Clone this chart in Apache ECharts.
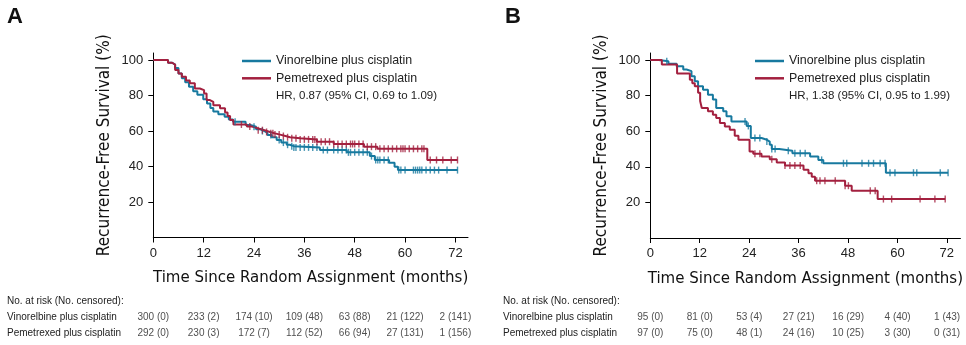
<!DOCTYPE html>
<html><head><meta charset="utf-8">
<script src="https://cdn.jsdelivr.net/npm/echarts@6/dist/echarts.min.js"></script>
<style>html,body{margin:0;padding:0;background:#fff}#c{width:966px;height:345px}</style>
</head><body><div id="c"></div>
<script>
const xTicks = [0, 12, 24, 36, 48, 60, 72];
const yTicks = [20, 40, 60, 80, 100];
const seriesNames = ['Vinorelbine plus cisplatin', 'Pemetrexed plus cisplatin'];
const hrTexts = ['HR, 0.87 (95% CI, 0.69 to 1.09)', 'HR, 1.38 (95% CI, 0.95 to 1.99)'];
const panelLabels = ['A', 'B'];
const riskTitle = 'No. at risk (No. censored):';
const yTitle = 'Recurrence-Free Survival (%)';
const xTitle = 'Time Since Random Assignment (months)';

// Kaplan-Meier step points [months, survival %]
const kmA_vin = [[0,100],[3.5,98.5],[4.5,97.5],[5.2,95.5],[6,92.5],[6.8,89.7],[7.6,87.5],[8.5,85],[9.5,82.5],[10.5,80.5],[11.9,78],[12.8,75.5],[13.6,73],[14.3,71],[15.5,69.5],[17,68],[18,66.5],[19,65.2],[22,63.4],[23.1,62.4],[24.5,61],[25.5,60],[26.5,59],[27.2,57.8],[28.2,56.5],[29.4,55],[30.5,53.5],[31.8,52.3],[32.5,51.5],[33.5,50.8],[39.7,49.3],[46.1,48],[51.6,45.9],[52.8,43.7],[56.2,42.1],[57.5,39.9],[58.3,38],[72.5,38]];
const kmA_pem = [[0,100],[3.5,98.5],[4.5,97.5],[5.2,94.4],[6,92.5],[6.8,90.6],[7.8,88.5],[8.7,86.9],[9.9,84],[11.1,83.1],[12.1,81.2],[12.7,77.5],[13.5,76.5],[14.3,74.6],[15.9,72.8],[17.1,70.5],[17.7,68.5],[18.3,66.2],[19.1,63.7],[22.3,62.5],[23.5,61.5],[25,60.5],[26.5,59.5],[27.8,58.7],[29,58],[30.2,57.2],[31.5,56.5],[32.6,55.9],[35,55.3],[39,54],[43,52.7],[50.2,51.2],[53.4,50],[65.3,43.7],[72.5,43.7]];
const kmB_vin = [[0,100],[2,99.4],[4.4,98],[6.4,96.6],[8,94.7],[8.8,93.8],[10,91],[10.8,88.1],[11.6,85.3],[12.8,83.4],[14,80.6],[15.2,77.8],[16,73.1],[17.7,71.2],[18.5,68.4],[19.7,65.5],[23.4,63],[24.4,56.2],[27,55.2],[28.3,54.2],[29,52.4],[29.5,50],[31.3,49],[34.5,47.7],[38.8,45.8],[40.8,43.9],[42,42],[57.2,36.7],[72.3,36.7]];
const kmB_pem = [[0,100],[2.8,97.6],[6.5,92.5],[9.6,89],[10.2,87],[10.8,85.3],[11.6,81.6],[12.1,77],[12.5,73.1],[14,71.2],[15.2,69.3],[16,67.5],[16.9,64.6],[18.1,62.7],[19.3,60.8],[20.5,57.5],[21.4,55.2],[24.1,48.6],[25,47.3],[27,45.8],[29,44.3],[30.7,42.4],[32.7,40.7],[37.2,38.4],[38.4,36.4],[39.2,34.5],[40,32.2],[47.3,29.4],[48.9,26.6],[55.2,21.9],[71.6,21.9]];

// censoring times (months)
const censA_vin = [19.5,24,26,28,30,31,32,33,33.5,34,35,36,37,38,39,40.5,41.5,43,44,45,46,46.5,47,48,49,50,51,52,53,53.5,54,55,56,58.5,59,60,62,62.5,63,63.5,64,65,66,67,68,70,72.5];
const censA_pem = [21,23,25,26,27,28,28.5,29,30,31,32,33,34,35,36,37,38,38.5,39,40,41,42,43,44,45,46,47,47.5,48,49,50,51,52,53,54,55,56,57,58,59,59.5,60,61,62,63,64,64.5,66,67.5,69,71,72.5];
const censB_vin = [4,23,23.8,25.4,26.6,28.3,29.5,30.3,33.5,35.1,36.4,37.6,41.6,46.9,47.7,51.4,53,54.2,55.8,57,58.2,59.4,63.9,64.7,70.4,72.3];
const censB_pem = [25.4,26.6,29.5,32.7,33.9,35.1,36.4,40.4,41.2,42.4,44.9,47.3,48.1,53.4,54.6,56.6,58.6,65.5,69.1,71.6];

// numbers at risk / censored
const riskA_vin_n = [300,233,174,109,63,21,2];
const riskA_vin_c = [0,2,10,48,88,122,141];
const riskA_pem_n = [292,230,172,112,66,27,1];
const riskA_pem_c = [0,3,7,52,94,131,156];
const riskB_vin_n = [95,81,53,27,16,4,1];
const riskB_vin_c = [0,0,4,21,29,40,43];
const riskB_pem_n = [97,75,48,24,10,3,0];
const riskB_pem_c = [0,0,1,16,25,30,31];

const BLUE = '#17799f';
const RED = '#a3203f';
const NARROW = "'Liberation Sans Narrow','DejaVu Sans Condensed','Arial Narrow',sans-serif";
const SANS = "'Liberation Sans',Arial,sans-serif";

function survAt(km, t) {
  let v = km[0][1];
  for (const p of km) { if (p[0] <= t) v = p[1]; else break; }
  return v;
}

const panels = [
  {left: 153.3, width: 314.7, top: 53, height: 184.5, xmax: 75, vin: kmA_vin, pem: kmA_pem, cv: censA_vin, cp: censA_pem,
   rv: [riskA_vin_n, riskA_vin_c], rp: [riskA_pem_n, riskA_pem_c], legLeft: 237, labX: 7, rowX: 7},
  {left: 650.3, width: 310.4, top: 53, height: 185, xmax: 75.3, vin: kmB_vin, pem: kmB_pem, cv: censB_vin, cp: censB_pem,
   rv: [riskB_vin_n, riskB_vin_c], rp: [riskB_pem_n, riskB_pem_c], legLeft: 750, labX: 505, rowX: 503}
];

const grid = [], xAxis = [], yAxis = [], series = [], legend = [], graphic = [];
panels.forEach((p, i) => {
  grid.push({left: p.left, top: p.top, width: p.width, height: p.height});
  grid.push({left: p.left, top: 309.5, width: p.width, height: 32});
  const gi = i * 2;
  xAxis.push({
    gridIndex: gi, type: 'value', min: 0, max: p.xmax,
    axisLine: {show: true, lineStyle: {color: '#000', width: 1}},
    axisTick: {show: true, customValues: xTicks, length: 5, lineStyle: {color: '#000'}},
    axisLabel: {customValues: xTicks, fontSize: 13, color: '#222', margin: 9, fontFamily: SANS},
    splitLine: {show: false},
    name: xTitle, nameLocation: 'middle', nameGap: 32,
    nameTextStyle: {fontSize: 16.7, color: '#111', fontFamily: NARROW}
  });
  yAxis.push({
    gridIndex: gi, type: 'value', min: 0, max: 104,
    axisLine: {show: true, lineStyle: {color: '#000', width: 1}},
    axisTick: {show: true, customValues: yTicks, length: 5, lineStyle: {color: '#000'}},
    axisLabel: {customValues: yTicks, fontSize: 13, color: '#222', margin: 10, fontFamily: SANS},
    splitLine: {show: false},
    name: yTitle, nameLocation: 'middle', nameGap: 40,
    nameTextStyle: {fontSize: 17, color: '#111', fontFamily: NARROW}
  });
  xAxis.push({gridIndex: gi + 1, type: 'value', min: 0, max: p.xmax, show: false});
  yAxis.push({gridIndex: gi + 1, type: 'category', inverse: true, data: seriesNames,
    axisLine: {show: false}, axisTick: {show: false}, splitLine: {show: false},
    axisLabel: {align: 'left', margin: p.left - p.rowX, fontSize: 10, color: '#222', fontFamily: SANS}});

  const xi = i * 2;
  [[p.vin, BLUE, p.cv, seriesNames[0]], [p.pem, RED, p.cp, seriesNames[1]]].forEach(([km, col, cens, nm]) => {
    series.push({type: 'line', name: nm, xAxisIndex: xi, yAxisIndex: xi, data: km, step: 'end',
      showSymbol: false, symbol: 'none', lineStyle: {color: col, width: 2}, itemStyle: {color: col}, z: 3, silent: true});
    series.push({type: 'scatter', name: 'cens' + nm + i, xAxisIndex: xi, yAxisIndex: xi,
      data: cens.map(t => [t, survAt(km, t)]), symbol: 'rect', symbolSize: [1.4, 7],
      itemStyle: {color: col}, z: 4, silent: true});
  });
  // risk table
  [[p.rv, 0], [p.rp, 1]].forEach(([r, row]) => {
    series.push({type: 'scatter', name: 'risk' + i + row, xAxisIndex: xi + 1, yAxisIndex: xi + 1,
      data: xTicks.map((t, k) => [t, row, r[0][k] + ' (' + r[1][k] + ')']),
      symbolSize: 1, itemStyle: {color: 'rgba(0,0,0,0)'}, silent: true,
      label: {show: true, position: 'inside', formatter: d => d.data[2], fontSize: 10, color: '#222', fontFamily: SANS}});
  });
  legend.push({
    data: seriesNames, orient: 'vertical', left: p.legLeft, top: 49, padding: 5,
    icon: 'rect', itemWidth: 29, itemHeight: 2.5, itemGap: 3.3, selectedMode: false,
    textStyle: {fontSize: 12.4, color: '#222', fontFamily: SANS, lineHeight: 14}
  });
  graphic.push({type: 'text', left: p.legLeft + 39, top: 89.5, style: {text: hrTexts[i], fontSize: 11.5, fill: '#222', fontFamily: SANS}});
  graphic.push({type: 'text', left: p.labX, top: 6, style: {text: panelLabels[i], fontSize: 22, fontWeight: 'bold', fill: '#111', fontFamily: SANS}});
  graphic.push({type: 'text', left: p.rowX, top: 296.5, style: {text: riskTitle, fontSize: 10, fill: '#222', fontFamily: SANS}});
});

const chart = echarts.init(document.getElementById('c'), null, {renderer: 'canvas'});
chart.setOption({animation: false, backgroundColor: '#fff', grid, xAxis, yAxis, series, legend, graphic});
</script></body></html>
